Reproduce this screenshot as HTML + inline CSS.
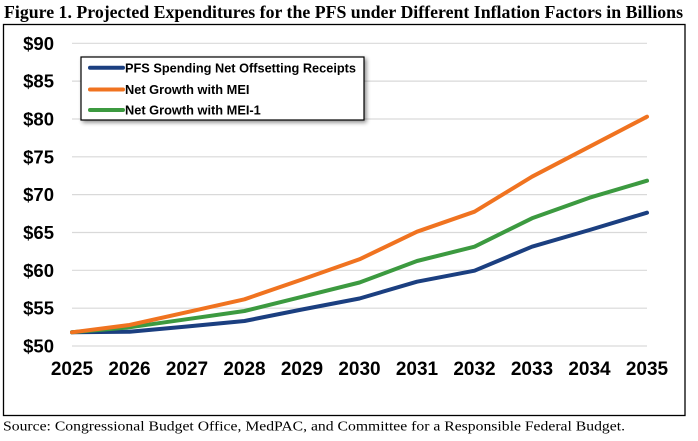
<!DOCTYPE html>
<html>
<head>
<meta charset="utf-8">
<style>
  html,body{margin:0;padding:0;background:#fff;}
  body{width:698px;height:441px;overflow:hidden;}
  svg{display:block;}
</style>
</head>
<body>
<svg width="698" height="441" viewBox="0 0 698 441" xmlns="http://www.w3.org/2000/svg">
  <defs>
    <filter id="sh" x="-10%" y="-20%" width="130%" height="160%">
      <feGaussianBlur in="SourceAlpha" stdDeviation="2"/>
      <feOffset dx="2" dy="2" result="b"/>
      <feComponentTransfer><feFuncA type="linear" slope="0.45"/></feComponentTransfer>
      <feMerge><feMergeNode/><feMergeNode in="SourceGraphic"/></feMerge>
    </filter>
  </defs>
  <rect width="698" height="441" fill="#fff"/>
  <!-- title -->
  <text x="4" y="18" font-family="'Liberation Serif', serif" font-weight="bold" font-size="18" textLength="679" lengthAdjust="spacingAndGlyphs" fill="#000">Figure 1. Projected Expenditures for the PFS under Different Inflation Factors in Billions</text>
  <!-- frame -->
  <rect x="3.5" y="24.5" width="681.5" height="391" fill="#fff" stroke="#000" stroke-width="1.3"/>
  <!-- gridlines -->
  <g stroke="#d9d9d9" stroke-width="1.2">
    <line x1="72" x2="647" y1="43.3" y2="43.3"/>
    <line x1="72" x2="647" y1="81.1" y2="81.1"/>
    <line x1="72" x2="647" y1="119" y2="119"/>
    <line x1="72" x2="647" y1="156.8" y2="156.8"/>
    <line x1="72" x2="647" y1="194.6" y2="194.6"/>
    <line x1="72" x2="647" y1="232.5" y2="232.5"/>
    <line x1="72" x2="647" y1="270.3" y2="270.3"/>
    <line x1="72" x2="647" y1="308.2" y2="308.2"/>
    <line x1="72" x2="647" y1="346" y2="346"/>
  </g>
  <!-- y labels -->
  <g font-family="'Liberation Sans', Arial, sans-serif" font-weight="bold" font-size="18.5" text-anchor="end" fill="#000">
    <text x="54" y="49.8">$90</text>
    <text x="54" y="87.6">$85</text>
    <text x="54" y="125.5">$80</text>
    <text x="54" y="163.3">$75</text>
    <text x="54" y="201.1">$70</text>
    <text x="54" y="239">$65</text>
    <text x="54" y="276.8">$60</text>
    <text x="54" y="314.7">$55</text>
    <text x="54" y="352.5">$50</text>
  </g>
  <!-- x labels -->
  <g font-family="'Liberation Sans', Arial, sans-serif" font-weight="bold" font-size="19" text-anchor="middle" fill="#000">
    <text x="72" y="375">2025</text>
    <text x="129.5" y="375">2026</text>
    <text x="187" y="375">2027</text>
    <text x="244.5" y="375">2028</text>
    <text x="302" y="375">2029</text>
    <text x="359.5" y="375">2030</text>
    <text x="417" y="375">2031</text>
    <text x="474.5" y="375">2032</text>
    <text x="532" y="375">2033</text>
    <text x="589.5" y="375">2034</text>
    <text x="647" y="375">2035</text>
  </g>
  <!-- series -->
  <g fill="none" stroke-width="4" stroke-linejoin="round" stroke-linecap="round">
    <polyline stroke="#1b3f80" points="72,332.3 129.5,331.7 187,326.5 244.5,321 302,309.5 359.5,298.5 417,281.7 474.5,270.7 532,246.7 589.5,230 647,212.7"/>
    <polyline stroke="#3c9a40" points="72,332.3 129.5,327.3 187,319.2 244.5,311 302,296.8 359.5,282.5 417,261 474.5,246.7 532,218.3 589.5,197.7 647,180.7"/>
    <polyline stroke="#f07320" points="72,332.3 129.5,325 187,312.2 244.5,299.3 302,279.5 359.5,259.3 417,231.7 474.5,211.7 532,176.7 589.5,146.7 647,116.7"/>
  </g>
  <!-- legend -->
  <rect x="81" y="57" width="283" height="63" fill="#fff" stroke="#000" stroke-width="1.2" filter="url(#sh)"/>
  <g stroke-width="4" stroke-linecap="round">
    <line x1="90" x2="123" y1="67.7" y2="67.7" stroke="#1b3f80"/>
    <line x1="90" x2="123" y1="89.5" y2="89.5" stroke="#f07320"/>
    <line x1="90" x2="123" y1="110" y2="110" stroke="#3c9a40"/>
  </g>
  <g font-family="'Liberation Sans', Arial, sans-serif" font-weight="bold" font-size="12.8" fill="#000">
    <text x="125" y="72.3" textLength="231" lengthAdjust="spacingAndGlyphs">PFS Spending Net Offsetting Receipts</text>
    <text x="125" y="94">Net Growth with MEI</text>
    <text x="125" y="114.5">Net Growth with MEI-1</text>
  </g>
  <!-- source -->
  <text x="3" y="430.5" font-family="'Liberation Serif', serif" font-size="14" textLength="622" lengthAdjust="spacingAndGlyphs" fill="#000">Source: Congressional Budget Office, MedPAC, and Committee for a Responsible Federal Budget.</text>
</svg>
</body>
</html>
